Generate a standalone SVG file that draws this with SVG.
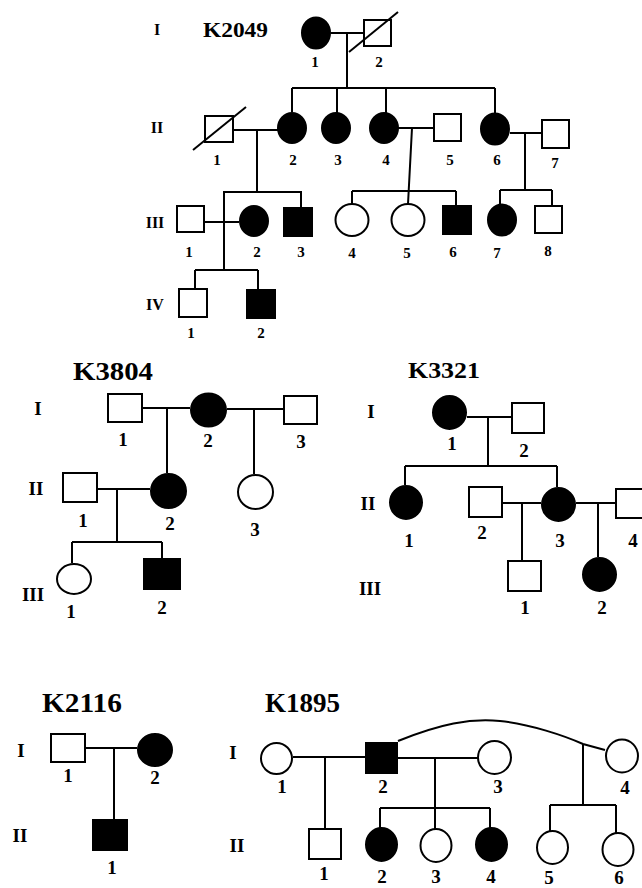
<svg xmlns="http://www.w3.org/2000/svg" width="642" height="888" viewBox="0 0 642 888">
  <style>
    .m { fill: #fff; stroke: #000; stroke-width: 2; }
    .a { fill: #000; stroke: #000; stroke-width: 2; }
    .ln { fill: none; stroke: #000; stroke-width: 2; }
    text { font-family: "Liberation Serif", "Times New Roman", serif; font-weight: bold; text-anchor: middle; fill: #000; }
    .s { font-size: 15px; }
    .g { font-size: 16px; }
    .b { font-size: 19px; }
    .t { text-anchor: start; }
  </style>
  <rect width="642" height="888" fill="#fff"/>

  <!-- ===== Family K2049 ===== -->
  <g id="k2049">
    <text class="t" x="203" y="37" font-size="22" textLength="65" lengthAdjust="spacingAndGlyphs">K2049</text>
    <g class="g">
      <text x="157" y="35">I</text>
      <text x="157" y="133">II</text>
      <text x="155" y="228">III</text>
      <text x="155" y="310">IV</text>
    </g>
    <g id="connectors-k2049" class="ln">
      <path d="M331,33 H363 M347,33 V88"/>
      <path d="M292,88 H495 M292,88 V112 M337,88 V113 M386,88 V113 M495,88 V113"/>
      <path d="M234,130 H278 M257,130 V192"/>
      <path d="M224,270 V192 H301 V207"/>
      <path d="M205,222 H239"/>
      <path d="M195,270 H258 M195,270 V288 M258,270 V289"/>
      <path d="M398,128 H433 M412,128 L408,204"/>
      <path d="M352,191 H456 M352,191 V204 M456,191 V205"/>
      <path d="M510,133 H541 M525,133 V190"/>
      <path d="M500,190 H552 M500,190 V204 M552,190 V205"/>
    </g>
    <g id="k2049-I-1"><ellipse class="a" cx="316" cy="33" rx="14" ry="15.5"/><text class="s" x="315" y="67">1</text></g>
    <g id="k2049-I-2"><rect class="m" x="364" y="20" width="27" height="26"/><path class="ln" d="M349,52 L398,12"/><text class="s" x="379" y="67">2</text></g>
    <g id="k2049-II-1"><rect class="m" x="205" y="116" width="28" height="26"/><path class="ln" d="M193,150 L246,107"/><text class="s" x="217" y="165">1</text></g>
    <g id="k2049-II-2"><ellipse class="a" cx="292" cy="128" rx="14" ry="15"/><text class="s" x="293" y="165">2</text></g>
    <g id="k2049-II-3"><ellipse class="a" cx="336" cy="128" rx="14" ry="15"/><text class="s" x="338" y="165">3</text></g>
    <g id="k2049-II-4"><ellipse class="a" cx="384" cy="128" rx="14" ry="15"/><text class="s" x="386" y="165">4</text></g>
    <g id="k2049-II-5"><rect class="m" x="434" y="114" width="27" height="27"/><text class="s" x="450" y="165">5</text></g>
    <g id="k2049-II-6"><ellipse class="a" cx="495" cy="129" rx="14" ry="15.5"/><text class="s" x="497" y="165">6</text></g>
    <g id="k2049-II-7"><rect class="m" x="542" y="120" width="27" height="28"/><text class="s" x="555" y="168">7</text></g>
    <g id="k2049-III-1"><rect class="m" x="177" y="206" width="27" height="26"/><text class="s" x="189" y="257">1</text></g>
    <g id="k2049-III-2"><ellipse class="a" cx="254" cy="221" rx="14" ry="15"/><text class="s" x="257" y="257">2</text></g>
    <g id="k2049-III-3"><rect class="a" x="284" y="208" width="28" height="28"/><text class="s" x="301" y="257">3</text></g>
    <g id="k2049-III-4"><ellipse class="m" cx="352" cy="220" rx="16.5" ry="16"/><text class="s" x="352" y="258">4</text></g>
    <g id="k2049-III-5"><ellipse class="m" cx="408" cy="220" rx="16.5" ry="16"/><text class="s" x="407" y="258">5</text></g>
    <g id="k2049-III-6"><rect class="a" x="443" y="206" width="28" height="28"/><text class="s" x="453" y="257">6</text></g>
    <g id="k2049-III-7"><ellipse class="a" cx="502" cy="220" rx="14" ry="15.5"/><text class="s" x="497" y="258">7</text></g>
    <g id="k2049-III-8"><rect class="m" x="535" y="206" width="27" height="27"/><text class="s" x="548" y="256">8</text></g>
    <g id="k2049-IV-1"><rect class="m" x="179" y="289" width="28" height="28"/><text class="s" x="191" y="338">1</text></g>
    <g id="k2049-IV-2"><rect class="a" x="247" y="290" width="28" height="28"/><text class="s" x="261" y="338">2</text></g>
  </g>

  <!-- ===== Family K3804 ===== -->
  <g id="k3804">
    <text class="t" x="73" y="380" font-size="25" textLength="80" lengthAdjust="spacingAndGlyphs">K3804</text>
    <g class="b">
      <text x="38" y="415">I</text>
      <text x="36" y="495">II</text>
      <text x="33" y="601">III</text>
    </g>
    <g id="connectors-k3804" class="ln">
      <path d="M143,408 H190 M167,408 V473"/>
      <path d="M227,409 H283 M254,409 V474"/>
      <path d="M98,489 H150 M117,489 V542"/>
      <path d="M72,542 H162 M72,542 V563 M162,542 V558"/>
    </g>
    <g id="k3804-I-1"><rect class="m" x="108" y="394" width="34" height="28"/><text class="b" x="123" y="446">1</text></g>
    <g id="k3804-I-2"><ellipse class="a" cx="208.5" cy="410" rx="17.5" ry="16.5"/><text class="b" x="208" y="447">2</text></g>
    <g id="k3804-I-3"><rect class="m" x="284" y="396" width="33" height="28"/><text class="b" x="301" y="448">3</text></g>
    <g id="k3804-II-1"><rect class="m" x="63" y="473" width="34" height="29"/><text class="b" x="83" y="527">1</text></g>
    <g id="k3804-II-2"><ellipse class="a" cx="168.5" cy="491" rx="17.5" ry="17"/><text class="b" x="170" y="530">2</text></g>
    <g id="k3804-II-3"><ellipse class="m" cx="255.5" cy="492" rx="17.5" ry="17"/><text class="b" x="255" y="536">3</text></g>
    <g id="k3804-III-1"><ellipse class="m" cx="74" cy="579" rx="17" ry="15"/><text class="b" x="71" y="618">1</text></g>
    <g id="k3804-III-2"><rect class="a" x="144" y="559" width="36" height="30"/><text class="b" x="162" y="614">2</text></g>
  </g>

  <!-- ===== Family K3321 ===== -->
  <g id="k3321">
    <text class="t" x="408" y="378" font-size="23" textLength="72" lengthAdjust="spacingAndGlyphs">K3321</text>
    <g class="b">
      <text x="371" y="418">I</text>
      <text x="368" y="510">II</text>
      <text x="370" y="595">III</text>
    </g>
    <g id="connectors-k3321" class="ln">
      <path d="M467,417 H511 M488,417 V466"/>
      <path d="M405,466 H557 M405,466 V485 M557,466 V487"/>
      <path d="M502,503 H541 M522,503 V560"/>
      <path d="M576,503 H615 M598,503 V557"/>
    </g>
    <g id="k3321-I-1"><ellipse class="a" cx="449.5" cy="412.5" rx="16.5" ry="16.5"/><text class="b" x="452" y="450">1</text></g>
    <g id="k3321-I-2"><rect class="m" x="512" y="403" width="32" height="30"/><text class="b" x="524" y="457">2</text></g>
    <g id="k3321-II-1"><ellipse class="a" cx="406" cy="502.5" rx="16" ry="16.5"/><text class="b" x="409" y="547">1</text></g>
    <g id="k3321-II-2"><rect class="m" x="469" y="487" width="33" height="30"/><text class="b" x="482" y="539">2</text></g>
    <g id="k3321-II-3"><ellipse class="a" cx="558.5" cy="504.5" rx="16.5" ry="16.5"/><text class="b" x="560" y="547">3</text></g>
    <g id="k3321-II-4"><rect class="m" x="616" y="489" width="33" height="29"/><text class="b" x="633" y="547">4</text></g>
    <g id="k3321-III-1"><rect class="m" x="508" y="561" width="33" height="30"/><text class="b" x="525" y="614">1</text></g>
    <g id="k3321-III-2"><ellipse class="a" cx="599.5" cy="574.5" rx="16.5" ry="16.5"/><text class="b" x="602" y="614">2</text></g>
  </g>

  <!-- ===== Family K2116 ===== -->
  <g id="k2116">
    <text class="t" x="42" y="712" font-size="27" textLength="80" lengthAdjust="spacingAndGlyphs">K2116</text>
    <g class="b">
      <text x="21" y="757">I</text>
      <text x="20" y="842">II</text>
    </g>
    <g id="connectors-k2116" class="ln">
      <path d="M86,748 H137 M114,748 V819"/>
    </g>
    <g id="k2116-I-1"><rect class="m" x="51" y="734" width="34" height="28"/><text class="b" x="68" y="782">1</text></g>
    <g id="k2116-I-2"><ellipse class="a" cx="155" cy="750" rx="17" ry="16"/><text class="b" x="155" y="784">2</text></g>
    <g id="k2116-II-1"><rect class="a" x="93" y="820" width="34" height="30"/><text class="b" x="112" y="874">1</text></g>
  </g>

  <!-- ===== Family K1895 ===== -->
  <g id="k1895">
    <text class="t" x="265" y="712" font-size="27" textLength="75" lengthAdjust="spacingAndGlyphs">K1895</text>
    <g class="b">
      <text x="233" y="759">I</text>
      <text x="237" y="852">II</text>
    </g>
    <g id="connectors-k1895" class="ln">
      <path d="M293,757 H365 M325,757 V828"/>
      <path d="M398,758 H478 M435,758 V808"/>
      <path d="M380,808 H490 M380,808 V828 M435,808 V829 M490,808 V828"/>
      <path d="M398,741 C440,724 470,718 500,721 S565,736 583,744 L605,750"/>
      <path d="M583,744 V805 M550,805 H616 M550,805 V831 M616,805 V833"/>
    </g>
    <g id="k1895-I-1"><ellipse class="m" cx="276.5" cy="758.5" rx="15.5" ry="15.5"/><text class="b" x="282" y="793">1</text></g>
    <g id="k1895-I-2"><rect class="a" x="366" y="743" width="31" height="30"/><text class="b" x="383" y="793">2</text></g>
    <g id="k1895-I-3"><ellipse class="m" cx="494.5" cy="757.5" rx="16.5" ry="16.5"/><text class="b" x="498" y="793">3</text></g>
    <g id="k1895-I-4"><ellipse class="m" cx="622" cy="756" rx="16" ry="16.5"/><text class="b" x="625" y="794">4</text></g>
    <g id="k1895-II-1"><rect class="m" x="309" y="829" width="32" height="30"/><text class="b" x="324" y="880">1</text></g>
    <g id="k1895-II-2"><ellipse class="a" cx="381.5" cy="844.5" rx="15.5" ry="16.5"/><text class="b" x="382" y="883">2</text></g>
    <g id="k1895-II-3"><ellipse class="m" cx="436" cy="845.5" rx="15.5" ry="16.5"/><text class="b" x="436" y="883">3</text></g>
    <g id="k1895-II-4"><ellipse class="a" cx="491.5" cy="844.5" rx="15.5" ry="16.5"/><text class="b" x="491" y="883">4</text></g>
    <g id="k1895-II-5"><ellipse class="m" cx="552.5" cy="847.5" rx="15.5" ry="16.5"/><text class="b" x="549" y="884">5</text></g>
    <g id="k1895-II-6"><ellipse class="m" cx="618" cy="849.5" rx="15.5" ry="16.5"/><text class="b" x="619" y="884">6</text></g>
  </g>
</svg>
